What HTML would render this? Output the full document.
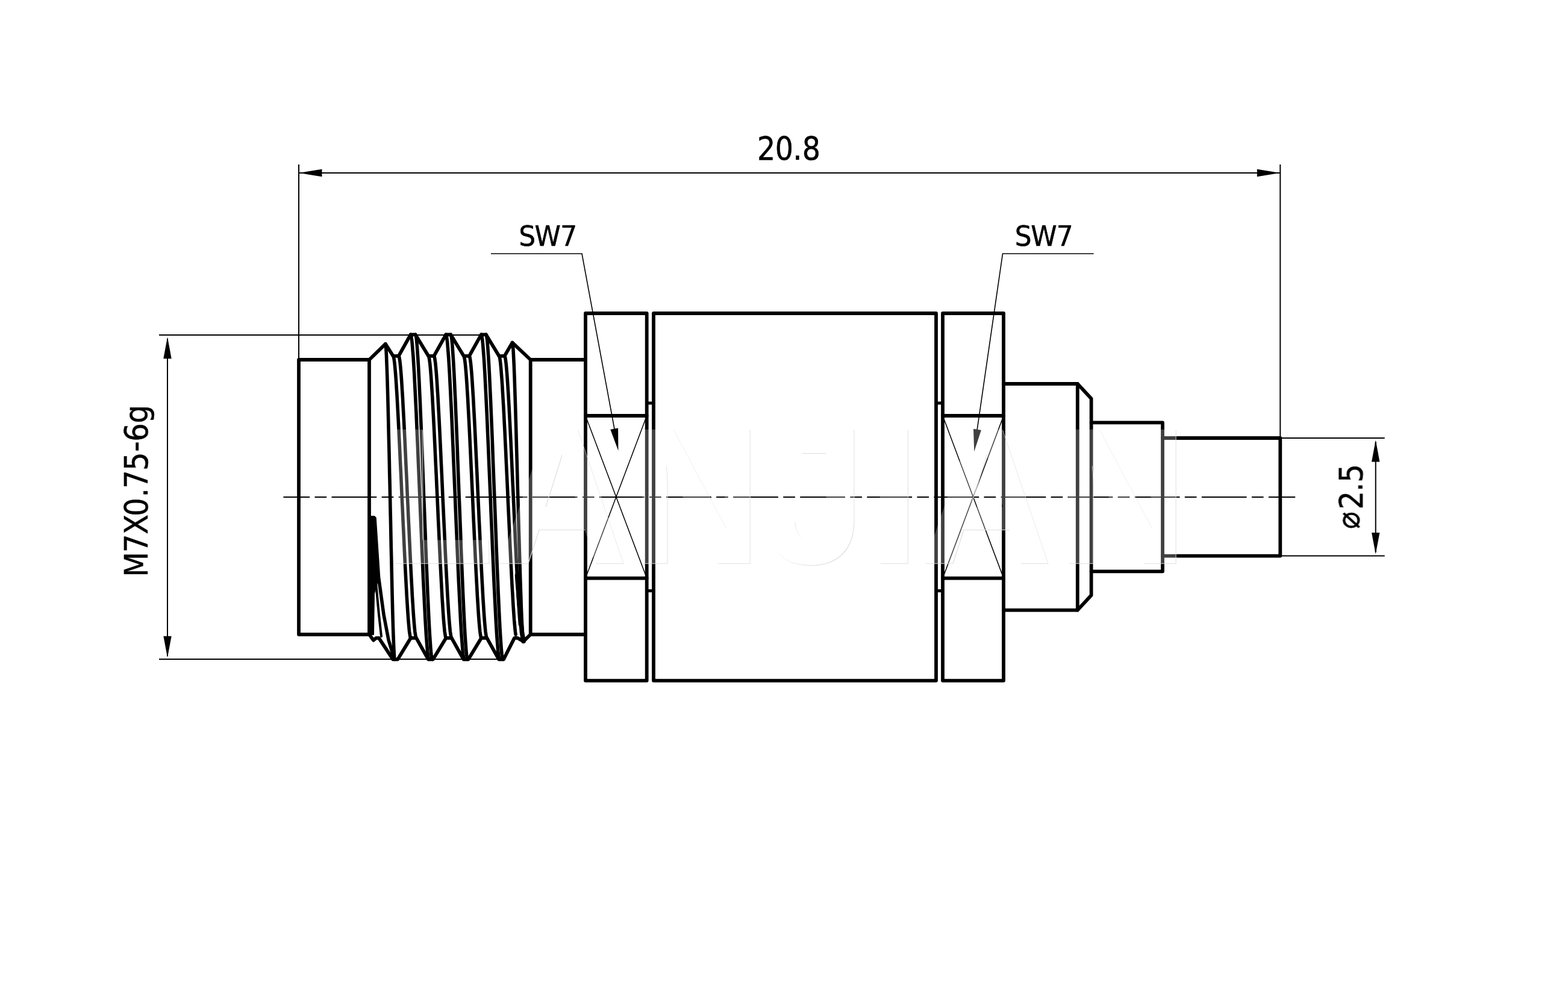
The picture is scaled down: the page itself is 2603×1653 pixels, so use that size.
<!DOCTYPE html>
<html lang="en"><head><meta charset="utf-8"><title>Drawing</title>
<style>
html,body{margin:0;padding:0;background:#fff;}
body{width:2603px;height:1653px;overflow:hidden;}
svg{display:block;}
svg .t text{font-family:"DejaVu Sans Condensed","DejaVu Sans","Liberation Sans",sans-serif;fill:#000;stroke:#000;stroke-width:0.5px;}
</style></head><body>
<svg width="2603" height="1653" viewBox="0 0 2603 1653">
<rect x="0" y="0" width="2603" height="1653" fill="#fff"/>
<g fill="none" stroke="#000" stroke-linecap="butt" stroke-linejoin="miter">
<line x1="496" y1="273" x2="496" y2="597" stroke-width="2" />
<line x1="2125.3" y1="273" x2="2125.3" y2="727" stroke-width="2" />
<line x1="496" y1="287" x2="2125.3" y2="287" stroke-width="2" />
<polygon points="496.5,287 534.5,280.8 534.5,293.2" fill="#000" stroke="none"/>
<polygon points="2124.8,287 2086.8,293.2 2086.8,280.8" fill="#000" stroke="none"/>
<line x1="264" y1="556" x2="800.8" y2="556" stroke-width="2" />
<line x1="264" y1="1094" x2="830.1" y2="1094" stroke-width="2" />
<line x1="278" y1="562" x2="278" y2="1089" stroke-width="2" />
<polygon points="278,559.3 284.7,595.3 271.3,595.3" fill="#000" stroke="none"/>
<polygon points="278,1091.3 271.3,1055.8 284.7,1055.8" fill="#000" stroke="none"/>
<line x1="2125.3" y1="727" x2="2298.7" y2="727" stroke-width="2" />
<line x1="2125.3" y1="922.6" x2="2298.7" y2="922.6" stroke-width="2" />
<line x1="2283.7" y1="733" x2="2283.7" y2="916.6" stroke-width="2" />
<polygon points="2283.7,730.4 2290.4,766.4 2277,766.4" fill="#000" stroke="none"/>
<polygon points="2283.7,919.6 2277,884.1 2290.4,884.1" fill="#000" stroke="none"/>
<line x1="972" y1="690" x2="1073.7" y2="959.6" stroke-width="1.5" />
<line x1="1073.7" y1="690" x2="972" y2="959.6" stroke-width="1.5" />
<line x1="1565" y1="690" x2="1666" y2="959.6" stroke-width="1.5" />
<line x1="1666" y1="690" x2="1565" y2="959.6" stroke-width="1.5" />
<polyline points="814.9,421 966,421 1020,712" stroke-width="1.6" />
<polygon points="1026.4,748 1013.3,712.8 1026.1,710.4" fill="#000" stroke="none"/>
<polyline points="1815.6,421 1664.5,421 1622,714" stroke-width="1.6" />
<polygon points="1617.2,749.5 1616,712 1628.9,713.8" fill="#000" stroke="none"/>
<line x1="470.4" y1="825" x2="2150.2" y2="825" stroke-width="2" stroke-dasharray="74.8 8.3 19.7 8.3" stroke-dashoffset="31"/>
</g>
<g fill="none" stroke="#000" stroke-linecap="round" stroke-linejoin="round">
<polyline points="613,597 496,597 496,1053 613,1053" stroke-width="5.8" />
<line x1="613" y1="597" x2="613" y2="1053" stroke-width="5.8" />
<line x1="880.7" y1="597" x2="880.7" y2="1053" stroke-width="5.8" />
<polyline points="613,597 639.9,570.8 652.6,590.8 661.8,590.8 681.6,555.3 689.6,555.3 711.2,590.8 720.4,590.8 740.2,555.3 748.2,555.3 769.8,590.8 779,590.8 798.8,555.3 806.8,555.3 828.4,590.8 837.6,590.8 850.5,568.6 880.7,597 972,597" stroke-width="5.8" />
<polyline points="613,1053 620,1062.6 624.5,1058.8 629,1058.8 652.3,1094.3 660.3,1094.3 681.9,1058.8 691.1,1058.8 710.9,1094.3 718.9,1094.3 740.5,1058.8 749.7,1058.8 769.5,1094.3 777.5,1094.3 799.1,1058.8 808.3,1058.8 828.1,1094.3 836.1,1094.3 854,1058.8 859,1058.8 869,1064.4 880.7,1053 972,1053" stroke-width="5.8" />
<polyline points="681.6,555.3 682.2,556.1 682.8,558.6 683.4,562.7 684.1,568.5 684.7,575.8 685.4,584.7 686.2,595 686.9,606.8 687.7,619.9 688.4,634.2 689.2,649.8 690,666.4 690.9,684 691.7,702.4 692.5,721.7 693.4,741.5 694.2,761.9 695.1,782.6 696,803.7 696.9,824.8 697.7,845.9 698.6,867 699.5,887.7 700.3,908.1 701.2,927.9 702,947.2 702.8,965.6 703.7,983.2 704.5,999.8 705.3,1015.4 706,1029.7 706.8,1042.8 707.5,1054.6 708.3,1064.9 709,1073.8 709.6,1081.1 710.3,1086.9 710.9,1091 711.5,1093.5 712.1,1094.3" stroke-width="5.6" />
<polyline points="689.6,555.3 690.1,556.1 690.7,558.6 691.3,562.7 691.9,568.5 692.5,575.8 693.1,584.7 693.8,595 694.5,606.8 695.2,619.9 695.9,634.2 696.6,649.8 697.4,666.4 698.1,684 698.9,702.4 699.7,721.7 700.5,741.5 701.2,761.9 702,782.6 702.8,803.7 703.6,824.8 704.5,845.9 705.3,867 706.1,887.7 706.8,908.1 707.6,927.9 708.4,947.2 709.2,965.6 709.9,983.2 710.7,999.8 711.4,1015.4 712.1,1029.7 712.8,1042.8 713.5,1054.6 714.2,1064.9 714.8,1073.8 715.4,1081.1 716,1086.9 716.6,1091 717.2,1093.5 717.7,1094.3" stroke-width="5.6" />
<polyline points="740.2,555.3 740.8,556.1 741.4,558.6 742,562.7 742.7,568.5 743.3,575.8 744,584.7 744.8,595 745.5,606.8 746.3,619.9 747,634.2 747.8,649.8 748.6,666.4 749.5,684 750.3,702.4 751.1,721.7 752,741.5 752.8,761.9 753.7,782.6 754.6,803.7 755.5,824.8 756.3,845.9 757.2,867 758.1,887.7 758.9,908.1 759.8,927.9 760.6,947.2 761.4,965.6 762.3,983.2 763.1,999.8 763.9,1015.4 764.6,1029.7 765.4,1042.8 766.1,1054.6 766.9,1064.9 767.6,1073.8 768.2,1081.1 768.9,1086.9 769.5,1091 770.1,1093.5 770.7,1094.3" stroke-width="5.6" />
<polyline points="748.2,555.3 748.7,556.1 749.3,558.6 749.9,562.7 750.5,568.5 751.1,575.8 751.7,584.7 752.4,595 753.1,606.8 753.8,619.9 754.5,634.2 755.2,649.8 756,666.4 756.7,684 757.5,702.4 758.3,721.7 759.1,741.5 759.8,761.9 760.6,782.6 761.4,803.7 762.2,824.8 763.1,845.9 763.9,867 764.7,887.7 765.4,908.1 766.2,927.9 767,947.2 767.8,965.6 768.5,983.2 769.3,999.8 770,1015.4 770.7,1029.7 771.4,1042.8 772.1,1054.6 772.8,1064.9 773.4,1073.8 774,1081.1 774.6,1086.9 775.2,1091 775.8,1093.5 776.3,1094.3" stroke-width="5.6" />
<polyline points="798.8,555.3 799.4,556.1 800,558.6 800.6,562.7 801.3,568.5 801.9,575.8 802.6,584.7 803.4,595 804.1,606.8 804.9,619.9 805.6,634.2 806.4,649.8 807.2,666.4 808.1,684 808.9,702.4 809.7,721.7 810.6,741.5 811.4,761.9 812.3,782.6 813.2,803.7 814.1,824.8 814.9,845.9 815.8,867 816.7,887.7 817.5,908.1 818.4,927.9 819.2,947.2 820,965.6 820.9,983.2 821.7,999.8 822.5,1015.4 823.2,1029.7 824,1042.8 824.7,1054.6 825.5,1064.9 826.2,1073.8 826.8,1081.1 827.5,1086.9 828.1,1091 828.7,1093.5 829.3,1094.3" stroke-width="5.6" />
<polyline points="806.8,555.3 807.3,556.1 807.9,558.6 808.5,562.7 809.1,568.5 809.7,575.8 810.3,584.7 811,595 811.7,606.8 812.4,619.9 813.1,634.2 813.8,649.8 814.6,666.4 815.3,684 816.1,702.4 816.9,721.7 817.7,741.5 818.4,761.9 819.2,782.6 820,803.7 820.9,824.8 821.7,845.9 822.5,867 823.3,887.7 824,908.1 824.8,927.9 825.6,947.2 826.4,965.6 827.1,983.2 827.9,999.8 828.6,1015.4 829.3,1029.7 830,1042.8 830.7,1054.6 831.4,1064.9 832,1073.8 832.6,1081.1 833.2,1086.9 833.8,1091 834.4,1093.5 834.9,1094.3" stroke-width="5.6" />
<polyline points="652.6,590.8 653.2,591.5 653.7,593.7 654.3,597.3 655,602.3 655.6,608.6 656.3,616.3 657,625.3 657.7,635.5 658.4,646.9 659.2,659.3 659.9,672.8 660.7,687.3 661.5,702.5 662.3,718.6 663.1,735.3 663.9,752.5 664.7,770.2 665.6,788.2 666.4,806.4 667.2,824.8 668.1,843.2 668.9,861.4 669.8,879.4 670.6,897.1 671.4,914.3 672.2,931 673,947.1 673.8,962.3 674.6,976.8 675.3,990.3 676.1,1002.7 676.8,1014.1 677.5,1024.3 678.2,1033.3 678.9,1041 679.5,1047.3 680.2,1052.3 680.8,1055.9 681.3,1058.1 681.9,1058.8" stroke-width="5.6" />
<polyline points="661.8,590.8 662.4,591.5 662.9,593.7 663.5,597.3 664.2,602.3 664.8,608.6 665.5,616.3 666.2,625.3 666.9,635.5 667.6,646.9 668.4,659.3 669.1,672.8 669.9,687.3 670.7,702.5 671.5,718.6 672.3,735.3 673.1,752.5 673.9,770.2 674.8,788.2 675.6,806.4 676.4,824.8 677.3,843.2 678.1,861.4 679,879.4 679.8,897.1 680.6,914.3 681.4,931 682.2,947.1 683,962.3 683.8,976.8 684.5,990.3 685.3,1002.7 686,1014.1 686.7,1024.3 687.4,1033.3 688.1,1041 688.7,1047.3 689.4,1052.3 690,1055.9 690.5,1058.1 691.1,1058.8" stroke-width="5.6" />
<polyline points="711.2,590.8 711.8,591.5 712.3,593.7 712.9,597.3 713.6,602.3 714.2,608.6 714.9,616.3 715.6,625.3 716.3,635.5 717,646.9 717.8,659.3 718.5,672.8 719.3,687.3 720.1,702.5 720.9,718.6 721.7,735.3 722.5,752.5 723.3,770.2 724.2,788.2 725,806.4 725.9,824.8 726.7,843.2 727.5,861.4 728.4,879.4 729.2,897.1 730,914.3 730.8,931 731.6,947.1 732.4,962.3 733.2,976.8 733.9,990.3 734.7,1002.7 735.4,1014.1 736.1,1024.3 736.8,1033.3 737.5,1041 738.1,1047.3 738.8,1052.3 739.4,1055.9 739.9,1058.1 740.5,1058.8" stroke-width="5.6" />
<polyline points="720.4,590.8 721,591.5 721.5,593.7 722.1,597.3 722.8,602.3 723.4,608.6 724.1,616.3 724.8,625.3 725.5,635.5 726.2,646.9 727,659.3 727.7,672.8 728.5,687.3 729.3,702.5 730.1,718.6 730.9,735.3 731.7,752.5 732.5,770.2 733.4,788.2 734.2,806.4 735,824.8 735.9,843.2 736.7,861.4 737.6,879.4 738.4,897.1 739.2,914.3 740,931 740.8,947.1 741.6,962.3 742.4,976.8 743.1,990.3 743.9,1002.7 744.6,1014.1 745.3,1024.3 746,1033.3 746.7,1041 747.3,1047.3 748,1052.3 748.6,1055.9 749.1,1058.1 749.7,1058.8" stroke-width="5.6" />
<polyline points="769.8,590.8 770.4,591.5 770.9,593.7 771.5,597.3 772.2,602.3 772.8,608.6 773.5,616.3 774.2,625.3 774.9,635.5 775.6,646.9 776.4,659.3 777.1,672.8 777.9,687.3 778.7,702.5 779.5,718.6 780.3,735.3 781.1,752.5 781.9,770.2 782.8,788.2 783.6,806.4 784.5,824.8 785.3,843.2 786.1,861.4 787,879.4 787.8,897.1 788.6,914.3 789.4,931 790.2,947.1 791,962.3 791.8,976.8 792.5,990.3 793.3,1002.7 794,1014.1 794.7,1024.3 795.4,1033.3 796.1,1041 796.7,1047.3 797.4,1052.3 798,1055.9 798.5,1058.1 799.1,1058.8" stroke-width="5.6" />
<polyline points="779,590.8 779.6,591.5 780.1,593.7 780.7,597.3 781.4,602.3 782,608.6 782.7,616.3 783.4,625.3 784.1,635.5 784.8,646.9 785.6,659.3 786.3,672.8 787.1,687.3 787.9,702.5 788.7,718.6 789.5,735.3 790.3,752.5 791.1,770.2 792,788.2 792.8,806.4 793.6,824.8 794.5,843.2 795.3,861.4 796.2,879.4 797,897.1 797.8,914.3 798.6,931 799.4,947.1 800.2,962.3 801,976.8 801.7,990.3 802.5,1002.7 803.2,1014.1 803.9,1024.3 804.6,1033.3 805.3,1041 805.9,1047.3 806.6,1052.3 807.2,1055.9 807.7,1058.1 808.3,1058.8" stroke-width="5.6" />
<polyline points="828.4,590.8 828.9,591.4 829.5,593.3 830,596.4 830.6,600.7 831.2,606.2 831.8,612.9 832.4,620.7 833.1,629.6 833.8,639.6 834.4,650.5 835.1,662.4 835.9,675.1 836.6,688.6 837.3,702.8 838.1,717.7 838.8,733.2 839.6,749.2 840.3,765.5 841.1,782.2 841.9,799.1 842.7,816.2 843.4,833.3 844.2,850.3 845,867.2 845.8,883.9 846.5,900.2 847.3,916.2 848,931.7 848.8,946.6 849.5,960.9 850.2,974.4 851,987.1 851.6,999 852.3,1009.9 853,1019.9 853.6,1028.8 854.3,1036.6 854.9,1043.3 855.5,1048.8 856.1,1053.2" stroke-width="5.6" />
<polyline points="837.6,590.8 838.1,591.3 838.6,592.9 839.1,595.6 839.6,599.3 840.2,604 840.7,609.8 841.3,616.5 841.9,624.1 842.5,632.7 843.1,642.2 843.8,652.5 844.4,663.5 845.1,675.4 845.7,687.9 846.4,701 847.1,714.7 847.8,728.8 848.5,743.5 849.2,758.5 849.9,773.8 850.6,789.3 851.3,805 852.1,820.8 852.8,836.6 853.5,852.3 854.2,867.9 854.9,883.3 855.6,898.5 856.3,913.3 857,927.7 857.7,941.7 858.4,955.1 859.1,967.9 859.8,980.1 860.4,991.6 861,1002.3 861.7,1012.1 862.3,1021.2 862.9,1029.3 863.5,1036.5" stroke-width="5.6" />
<polyline points="639.9,570.8 640.2,571.6 640.5,573.9 640.8,577.8 641.1,583.2 641.5,590.1 641.8,598.5 642.2,608.2 642.6,619.3 643,631.7 643.4,645.2 643.8,659.8 644.2,675.5 644.6,692.1 645,709.5 645.4,727.6 645.9,746.3 646.3,765.5 646.7,785.1 647.2,804.9 647.6,824.8 648,845.9 648.5,867 648.9,887.7 649.3,908.1 649.8,927.9 650.2,947.2 650.6,965.6 651,983.2 651.4,999.8 651.8,1015.4 652.2,1029.7 652.6,1042.8 653,1054.6 653.4,1064.9 653.7,1073.8 654.1,1081.1 654.4,1086.9 654.7,1091 655,1093.5 655.3,1094.3" stroke-width="5.6" />
<polyline points="850.5,568.6 850.9,569.4 851.2,571.8 851.6,575.7 852,581.1 852.4,588.1 852.8,596.5 853.3,606.4 853.7,617.5 854.2,630 854.6,643.6 855.1,658.4 855.6,674.2 856.1,690.9 856.6,708.5 857.1,726.8 857.6,745.6 858.2,765 858.7,784.7 859.2,804.7 859.8,824.8 860.3,843.6 860.8,862.3 861.3,880.7 861.9,898.8 862.4,916.5 862.9,933.6 863.4,950 863.9,965.6 864.4,980.4 864.9,994.2 865.3,1007 865.8,1018.6 866.2,1029.1 866.7,1038.3 867.1,1046.2 867.5,1052.7 867.9,1057.8 868.3,1061.5 868.6,1063.7 869,1064.4" stroke-width="5.6" />
<polyline points="858.5,955 862,1000 866.5,1050 869,1064" stroke-width="7.6" />
<polygon points="613,857 621.5,857 625,905 628.5,958 621,985 620,1053 613,1053" fill="#000" stroke="#000" stroke-width="2"/>
<polyline points="622,860 628.5,958 637,1020 645,1062 654,1092" stroke-width="5.6" />
<polyline points="624,967 629,1020 633,1056" stroke-width="4" />
<rect x="972" y="520" width="101.7" height="609.6" stroke-width="5.8"/>
<rect x="1085" y="520" width="469" height="609.6" stroke-width="5.8"/>
<rect x="1565" y="520" width="101" height="609.6" stroke-width="5.8"/>
<line x1="972" y1="690" x2="1073.7" y2="690" stroke-width="5.8" />
<line x1="972" y1="959.6" x2="1073.7" y2="959.6" stroke-width="5.8" />
<line x1="1565" y1="690" x2="1666" y2="690" stroke-width="5.8" />
<line x1="1565" y1="959.6" x2="1666" y2="959.6" stroke-width="5.8" />
<line x1="1073.7" y1="669" x2="1085" y2="669" stroke-width="5" />
<line x1="1073.7" y1="980.6" x2="1085" y2="980.6" stroke-width="5" />
<line x1="1554" y1="669" x2="1565" y2="669" stroke-width="5" />
<line x1="1554" y1="980.6" x2="1565" y2="980.6" stroke-width="5" />
<polyline points="1666,637 1788.8,637 1811.6,661.5 1811.6,988.1 1788.8,1012.6 1666,1012.6" stroke-width="5.8" />
<line x1="1788.8" y1="637" x2="1788.8" y2="1012.6" stroke-width="5.8" />
<polyline points="1811.6,701.3 1930,701.3 1930,948.3 1811.6,948.3" stroke-width="5.8" />
<polyline points="1930,727 2125.3,727 2125.3,922.6 1930,922.6" stroke-width="5.8" />
</g>
<g class="t" opacity="0.999">
<text transform="translate(0 265.4)" x="1257 1286.7 1316.3 1331.7" y="0" font-size="52.8">20.8</text>
<text transform="translate(0 407.9) scale(1.06 1)" x="812.4 837.2 877.5" y="0" font-size="46">SW7</text>
<text transform="translate(0 407.9) scale(1.06 1)" x="1589.4 1614.3 1654.5" y="0" font-size="46">SW7</text>
<text transform="translate(244.9 960) rotate(-90)" x="2.4 43 73.2 103.3 134.7 149.2 178.9 210.2 227.2 257.4" y="0 0 0 0 0 0 0 -2 0 0" font-size="53.4">M7X0.75-6g</text>
<text transform="translate(2261.6 880) rotate(-90)" x="2 34.5 64.1 79.3" y="-4.6 0 0 0" font-size="53.4">⌀2.5</text>
</g>
<defs><filter id="wmf" x="-2%" y="-5%" width="104%" height="110%" color-interpolation-filters="sRGB"><feOffset in="SourceAlpha" dx="1.3" dy="1.2" result="o"/><feComposite in="o" in2="SourceAlpha" operator="out" result="e"/><feFlood flood-color="#dedede" result="g"/><feComposite in="g" in2="e" operator="in" result="ec"/><feFlood flood-color="#fff" flood-opacity="0.25" result="w"/><feComposite in="w" in2="SourceAlpha" operator="in" result="fc"/><feMerge><feMergeNode in="ec"/><feMergeNode in="fc"/></feMerge></filter></defs>
<text transform="translate(0 933.2) scale(1 1.067)" x="637 825 1048 1270.5 1442.4 1530 1755" y="0" font-family="'Liberation Sans',sans-serif" font-weight="bold" font-size="298" fill="#000" stroke="#000" stroke-width="3" stroke-linejoin="miter" filter="url(#wmf)">LANJIAN</text>
</svg>
</body></html>
